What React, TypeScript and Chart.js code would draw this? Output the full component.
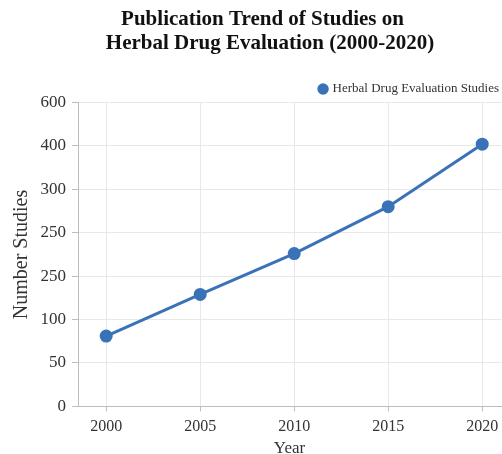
import React, { useEffect, useRef } from "react";
import { Chart, registerables } from "chart.js";

Chart.register(...registerables);

const years = [2000, 2005, 2010, 2015, 2020];
const studies = [81, 129, 176, 230, 302];
const yTickLabels = ["0", "50", "100", "250", "250", "300", "400", "600"];
const titleLines = ["Publication Trend of Studies on", "Herbal Drug Evaluation (2000-2020)"];
const seriesName = "Herbal Drug Evaluation Studies";

const SERIF = "'Liberation Serif', 'Times New Roman', serif";
const LINE_COLOR = "#3a72b8";

const titlePlugin = {
  id: "customTitle",
  beforeLayout(chart: any) {
    const lg = chart.legend;
    if (lg && !lg.__tight) {
      const origFit = lg.fit.bind(lg);
      lg.fit = function () {
        origFit();
        if (this.isHorizontal()) this.height = Math.max(0, this.height - 3);
      };
      lg.__tight = true;
    }
  },
  afterDraw(chart: any) {
    const ctx = chart.ctx;
    ctx.save();
    ctx.font = `bold 21px ${SERIF}`;
    ctx.fillStyle = "#111";
    ctx.textAlign = "center";
    ctx.textBaseline = "alphabetic";
    const cx = chart.width / 2;
    ctx.fillText(titleLines[0], cx + 11.5, 24.5);
    ctx.fillText(titleLines[1], cx + 19, 48.5);
    ctx.restore();
  },
};

export default function App() {
  const ref = useRef<HTMLCanvasElement | null>(null);
  useEffect(() => {
    if (!ref.current) return;
    const chart = new Chart(ref.current, {
      type: "line",
      data: {
        datasets: [
          {
            label: seriesName,
            data: years.map((y, i) => ({ x: y, y: studies[i] })),
            borderColor: LINE_COLOR,
            backgroundColor: LINE_COLOR,
            borderWidth: 3,
            pointRadius: 5,
            pointHoverRadius: 5,
            pointBackgroundColor: LINE_COLOR,
            pointBorderColor: LINE_COLOR,
            tension: 0,
          },
        ],
      },
      options: {
        responsive: false,
        animation: false,
        layout: { autoPadding: false, padding: { top: 80.5, right: 1, left: 10, bottom: 0 } },
        plugins: {
          title: { display: false },
          tooltip: { enabled: false },
          legend: {
            display: true,
            position: "top",
            align: "end",
            labels: {
              usePointStyle: true,
              pointStyle: "circle",
              boxWidth: 6,
              boxHeight: 6,
              color: "#333",
              font: { family: SERIF, size: 13 },
              padding: 2,
            },
          },
        },
        scales: {
          x: {
            type: "linear",
            min: 1998.5,
            max: 2021,
            afterBuildTicks: (scale: any) => {
              scale.ticks = years.map((v) => ({ value: v }));
            },
            afterFit: (scale: any) => {
              scale.paddingRight = 0;
              scale.paddingLeft = 0;
            },
            ticks: {
              color: "#333",
              font: { family: SERIF, size: 16 },
              padding: 6,
              maxRotation: 0,
              callback: (v: any) => String(v),
            },
            grid: { color: "#e8e8e8", tickColor: "#bdbdbd", tickLength: 5 },
            border: { color: "#bdbdbd" },
            title: {
              display: true,
              text: "Year",
              color: "#333",
              font: { family: SERIF, size: 17 },
              padding: { top: -4, bottom: 0 },
            },
          },
          y: {
            type: "linear",
            min: 0,
            max: 350,
            ticks: {
              stepSize: 50,
              color: "#333",
              font: { family: SERIF, size: 17 },
              padding: 6,
              callback: (_v: any, i: number) => yTickLabels[i],
            },
            grid: { color: "#e8e8e8", tickColor: "#bdbdbd", tickLength: 6 },
            border: { color: "#bdbdbd" },
            title: {
              display: true,
              text: "Number Studies",
              color: "#333",
              font: { family: SERIF, size: 20 },
              padding: { top: 0, bottom: 0.5 },
            },
          },
        },
      },
      plugins: [titlePlugin],
    } as any);
    return () => chart.destroy();
  }, []);
  return (
    <div style={{ position: "absolute", left: 0, top: 0, width: 502, height: 459, background: "#fff", overflow: "hidden" }}>
      <canvas ref={ref} width={502} height={459} />
    </div>
  );
}
